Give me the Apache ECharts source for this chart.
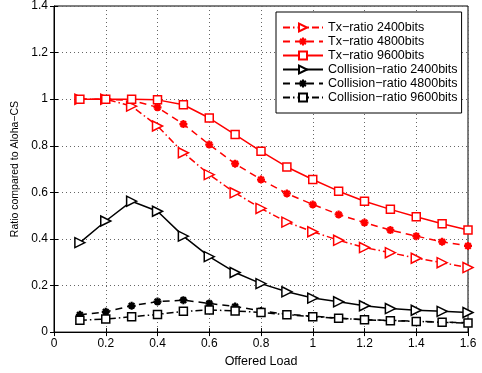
<!DOCTYPE html>
<html>
<head>
<meta charset="utf-8">
<script src="https://cdn.jsdelivr.net/npm/echarts@6/dist/echarts.min.js"></script>
<style>
  html, body { margin: 0; padding: 0; background: #fff; }
  #chart { width: 482px; height: 373px; }
</style>
</head>
<body>
<div id="chart"></div>
<script>
// offered load (x values)
let loads = [0.1, 0.2, 0.3, 0.4, 0.5, 0.6, 0.7, 0.8, 0.9, 1.0, 1.1, 1.2, 1.3, 1.4, 1.5, 1.6];

// values
let tx2400 = [1.0, 1.0, 0.97, 0.885, 0.77, 0.676, 0.598, 0.531, 0.472, 0.431, 0.394, 0.363, 0.341, 0.317, 0.298, 0.277];
let tx4800 = [1.0, 1.0, 0.995, 0.965, 0.893, 0.805, 0.723, 0.655, 0.595, 0.548, 0.505, 0.47, 0.438, 0.412, 0.388, 0.37];
let tx9600 = [1.0, 1.0, 1.0, 0.997, 0.976, 0.919, 0.848, 0.776, 0.709, 0.655, 0.605, 0.562, 0.527, 0.495, 0.465, 0.438];
let col2400 = [0.384, 0.477, 0.562, 0.519, 0.412, 0.324, 0.256, 0.208, 0.173, 0.146, 0.13, 0.113, 0.101, 0.094, 0.089, 0.084];
let col4800 = [0.074, 0.087, 0.113, 0.131, 0.137, 0.123, 0.11, 0.091, 0.077, 0.068, 0.06, 0.053, 0.05, 0.047, 0.043, 0.04];
let col9600 = [0.051, 0.056, 0.066, 0.076, 0.089, 0.095, 0.091, 0.084, 0.075, 0.066, 0.059, 0.053, 0.049, 0.046, 0.042, 0.039];

let names = [
  'Tx\u2212ratio 2400bits', 'Tx\u2212ratio 4800bits', 'Tx\u2212ratio 9600bits',
  'Collision\u2212ratio 2400bits', 'Collision\u2212ratio 4800bits', 'Collision\u2212ratio 9600bits'
];

let asterisk = 'path://M0,5L10,5M5,0L5,10M1.5,1.5L8.5,8.5M8.5,1.5L1.5,8.5';
let dashDot = [7, 3, 1.5, 3];
let dashed = [7, 5];

function pairs (ys) {
  return ys.map(function (y, i) { return [loads[i], y]; });
}

function makeSeries (name, ys, color, lineType, marker) {
  let s = {
    name: name,
    type: 'line',
    data: pairs(ys),
    lineStyle: { color: color, width: 1.5, type: lineType },
    symbolKeepAspect: true,
    animation: false
  };
  if (marker === 'tri') {
    s.symbol = 'triangle';
    s.symbolRotate = -90;
    s.symbolSize = 10;
    s.itemStyle = { color: '#fff', borderColor: color, borderWidth: 1.5 };
  } else if (marker === 'star') {
    s.symbol = asterisk;
    s.symbolSize = 8;
    s.itemStyle = { color: color, borderColor: color, borderWidth: 2.2 };
  } else {
    s.symbol = 'rect';
    s.symbolSize = 8;
    s.itemStyle = { color: '#fff', borderColor: color, borderWidth: 1.5 };
  }
  return s;
}

let chart = echarts.init(document.getElementById('chart'));

let tickFont = { fontFamily: 'Liberation Sans', fontSize: 12, color: '#000' };

chart.setOption({
  backgroundColor: '#fff',
  animation: false,
  grid: {
    left: 54, right: 14, top: 6, bottom: 40,
    show: true, borderColor: '#000', borderWidth: 1
  },
  legend: {
    orient: 'vertical',
    left: 276, top: 12,
    padding: [9, 4, 9, 6],
    itemGap: 1,
    itemWidth: 40,
    itemHeight: 10,
    backgroundColor: '#fff',
    borderColor: '#000',
    borderWidth: 1,
    borderRadius: 0,
    textStyle: { fontFamily: 'Liberation Sans', fontSize: 12.5, color: '#000' },
    data: names
  },
  xAxis: [{
    type: 'value',
    min: 0, max: 1.6, interval: 0.2,
    name: 'Offered Load',
    nameLocation: 'middle',
    nameGap: 21,
    nameTextStyle: { fontFamily: 'Liberation Sans', fontSize: 12.5, color: '#000' },
    axisLine: { show: true, lineStyle: { color: '#000' } },
    axisTick: { show: true, inside: true, length: 4, lineStyle: { color: '#000' } },
    axisLabel: Object.assign({ margin: 6 }, tickFont),
    splitLine: { show: true, lineStyle: { color: '#666', type: [1, 3] } }
  }, {
    type: 'value', position: 'top',
    min: 0, max: 1.6, interval: 0.2,
    axisLine: { show: false },
    axisTick: { show: true, inside: true, length: 4, lineStyle: { color: '#000' } },
    axisLabel: { show: false },
    splitLine: { show: false }
  }],
  yAxis: [{
    type: 'value',
    min: 0, max: 1.4, interval: 0.2,
    name: 'Ratio compared to Aloha\u2212CS',
    nameLocation: 'middle',
    nameGap: 27,
    nameTextStyle: { fontFamily: 'Liberation Sans', fontSize: 10.5, color: '#000' },
    axisLine: { show: true, lineStyle: { color: '#000' } },
    axisTick: { show: true, inside: true, length: 4, lineStyle: { color: '#000' } },
    axisLabel: Object.assign({ margin: 6 }, tickFont),
    splitLine: { show: true, lineStyle: { color: '#666', type: [1, 3] } }
  }, {
    type: 'value', position: 'right',
    min: 0, max: 1.4, interval: 0.2,
    axisLine: { show: false },
    axisTick: { show: true, inside: true, length: 4, lineStyle: { color: '#000' } },
    axisLabel: { show: false },
    splitLine: { show: false }
  }],
  series: [
    makeSeries(names[0], tx2400, '#ff0000', dashDot, 'tri'),
    makeSeries(names[1], tx4800, '#ff0000', dashed, 'star'),
    makeSeries(names[2], tx9600, '#ff0000', 'solid', 'rect'),
    makeSeries(names[3], col2400, '#000000', 'solid', 'tri'),
    makeSeries(names[4], col4800, '#000000', dashed, 'star'),
    makeSeries(names[5], col9600, '#000000', dashDot, 'rect')
  ]
});
</script>
</body>
</html>
